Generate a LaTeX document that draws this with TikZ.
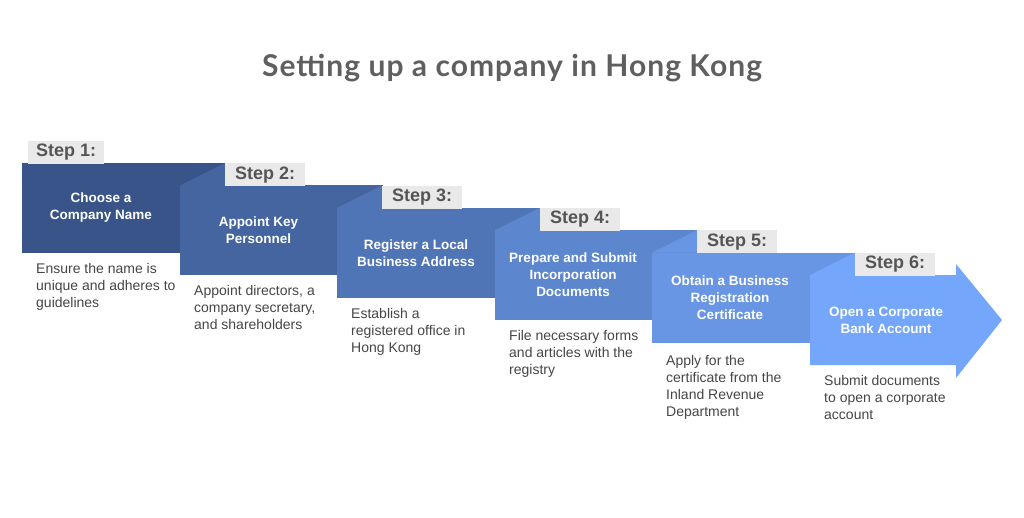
\documentclass[tikz,border=0pt]{standalone}
\usepackage{fontspec}
\setmainfont{Liberation Sans}
\newfontfamily\titlefont[LetterSpace=3.5]{Lato}
\definecolor{stepA}{RGB}{56,84,136}
\definecolor{stepB}{RGB}{68,101,159}
\definecolor{stepC}{RGB}{80,117,182}
\definecolor{stepD}{RGB}{92,134,205}
\definecolor{stepE}{RGB}{104,150,228}
\definecolor{stepF}{RGB}{116,167,251}
\definecolor{titlegray}{RGB}{95,95,95}
\definecolor{descgray}{RGB}{70,70,70}
\definecolor{labelgray}{RGB}{233,233,233}
\definecolor{labeltext}{RGB}{85,85,85}

\begin{document}
\begin{tikzpicture}[x=1pt, y=-1pt]
  \tikzstyle{steptitle} = [text=white, font=\bfseries\fontsize{13.5}{17}\selectfont, align=center, inner sep=0pt]
  \tikzstyle{stepdesc} = [text=descgray, font=\fontsize{14}{17}\selectfont, align=left, anchor=north west, inner sep=0pt]
  \tikzstyle{steplabel} = [fill=labelgray, text=labeltext, font=\bfseries\fontsize{18}{20}\selectfont, minimum width=80pt, minimum height=23pt, inner sep=0pt, anchor=north west]

  % Canvas
  \useasboundingbox (0,0) rectangle (1024,517);
  \fill[white] (0,0) rectangle (1024,517);

  % Title
  \node [font=\titlefont\bfseries\fontsize{30}{34}\selectfont, text=titlegray] (title) at (512,68) {Setting up a company in Hong Kong};

  % Step 1
  \fill [stepA] (22,163) rectangle (225,253);
  \node [steplabel, minimum width=76pt] (lab1) at (28,140.5) {Step 1:};
  \node [steptitle] (tit1) at (101,208) {Choose a\\Company Name};
  \node [stepdesc] (desc1) at (36,263) {Ensure the name is\\unique and adheres to\\guidelines};

  % Step 2
  \fill [stepB] (180,185.4) rectangle (383,275.4);
  \fill [stepB] (180,185.4) -- (225,163) -- (225,185.4) -- cycle;
  \node [steplabel] (lab2) at (225,163) {Step 2:};
  \node [steptitle] (tit2) at (258.5,230.5) {Appoint Key\\Personnel};
  \node [stepdesc] (desc2) at (194,285.5) {Appoint directors, a\\company secretary,\\and shareholders};

  % Step 3
  \fill [stepC] (337,207.8) rectangle (540,297.8);
  \fill [stepC] (337,207.8) -- (382,185.4) -- (382,207.8) -- cycle;
  \node [steplabel] (lab3) at (382,185.4) {Step 3:};
  \node [steptitle] (tit3) at (416,253) {Register a Local\\Business Address};
  \node [stepdesc] (desc3) at (351,308) {Establish a\\registered office in\\Hong Kong};

  % Step 4
  \fill [stepD] (495,230.2) rectangle (698,320.2);
  \fill [stepD] (495,230.2) -- (540,207.8) -- (540,230.2) -- cycle;
  \node [steplabel] (lab4) at (540,207.8) {Step 4:};
  \node [steptitle] (tit4) at (573,275) {Prepare and Submit\\Incorporation\\Documents};
  \node [stepdesc] (desc4) at (509,330.5) {File necessary forms\\and articles with the\\registry};

  % Step 5
  \fill [stepE] (652,252.6) rectangle (855,342.6);
  \fill [stepE] (652,252.6) -- (697,230.2) -- (697,252.6) -- cycle;
  \node [steplabel] (lab5) at (697,230.2) {Step 5:};
  \node [steptitle] (tit5) at (730,297.5) {Obtain a Business\\Registration\\Certificate};
  \node [stepdesc] (desc5) at (666,355) {Apply for the\\certificate from the\\Inland Revenue\\Department};

  % Step 6: final arrow
  \fill [stepF] (810,275) -- (855,252.6) -- (855,275) -- (956,275) -- (956,264)
    -- (1002,320) -- (956,378) -- (956,365) -- (810,365) -- cycle;
  \node [steplabel] (lab6) at (855,252.6) {Step 6:};
  \node [steptitle] (tit6) at (886,320) {Open a Corporate\\Bank Account};
  \node [stepdesc] (desc6) at (824,375) {Submit documents\\to open a corporate\\account};

\end{tikzpicture}
\end{document}
